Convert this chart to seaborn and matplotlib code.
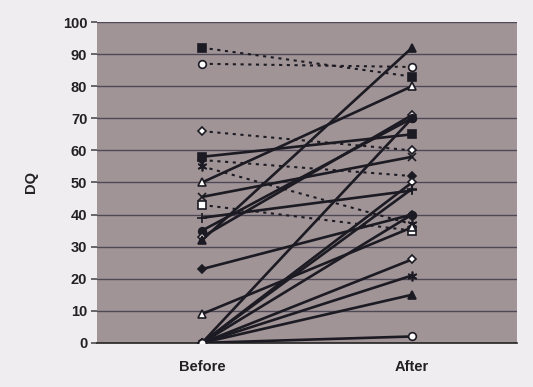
import matplotlib
matplotlib.use("Agg")
import matplotlib.pyplot as plt
import seaborn as sns
import pandas as pd

categories = ["Before", "After"]
before = [92, 87, 66, 57, 55, 43, 58, 50, 45.5, 39, 35, 33, 32, 23, 9, 0, 0, 0, 0, 0, 0, 0, 0]
after  = [83, 86, 60, 52, 37, 35, 65, 80, 58, 47.5, 70, 71, 92, 40, 36, 70, 50, 48, 40, 26, 21, 15, 2]
markers = ["s", "o", "D", "D", "ast", "s", "s", "^", "x", "+", "o", "D", "^", "D", "^", "o", "D", "+", "o", "D", "ast", "^", "o"]
filled  = [1, 0, 0, 1, 1, 0, 1, 0, 1, 1, 1, 0, 1, 1, 0, 1, 0, 1, 1, 0, 1, 1, 0]
dotted  = [1, 1, 1, 1, 1, 1, 0, 0, 0, 0, 0, 0, 0, 0, 0, 0, 0, 0, 0, 0, 0, 0, 0]
yticks = list(range(0, 101, 10))

sns.set_theme(style="white")
plt.rcParams["font.family"] = ["Liberation Sans", "DejaVu Sans"]

fig = plt.figure(figsize=(5.33, 3.87), dpi=100)
fig.patch.set_facecolor("#efedf0")
ax = fig.add_axes([0.182, 0.114, 0.788, 0.829])
ax.set_facecolor("#a09497")

rows = []
for i, (b, a) in enumerate(zip(before, after)):
    rows.append({"id": i, "pos": 0, "DQ": b})
    rows.append({"id": i, "pos": 1, "DQ": a})
df = pd.DataFrame(rows)

for i in range(len(before)):
    sub = df[df["id"] == i]
    m = markers[i]
    mk = (6, 2, 0) if m == "ast" else m
    ms = {"s": 5.5, "o": 5.5, "D": 4.5, "^": 6, "x": 5.5, "+": 7, "ast": 7}[m]
    fc = "#1c1a22" if filled[i] else "white"
    sns.lineplot(data=sub, x="pos", y="DQ", ax=ax, color="#1c1a22",
                 linewidth=1.5 if dotted[i] else 1.9,
                 linestyle=(0, (1.5, 2.2)) if dotted[i] else "-",
                 marker=mk, markersize=ms, markerfacecolor=fc,
                 markeredgecolor="#1c1a22", markeredgewidth=1.2,
                 legend=False, zorder=3)

ax.set_xlim(-0.5, 1.5)
ax.set_ylim(0, 100)
ax.set_yticks(yticks)
ax.set_xticks([0, 1])
ax.set_xticklabels(categories)
for y in yticks[1:]:
    ax.axhline(y, color="#4e4855", linewidth=1.0, zorder=1)
for s in ["top", "right", "left"]:
    ax.spines[s].set_visible(False)
ax.spines["bottom"].set_color("#222")
ax.spines["bottom"].set_linewidth(1.2)
ax.tick_params(axis="y", left=True, length=4, color="#555", labelsize=10.5, pad=3)
ax.tick_params(axis="x", bottom=False, labelsize=10.5, pad=6)
for lab in ax.get_xticklabels() + ax.get_yticklabels():
    lab.set_fontweight("bold")
    lab.set_color("#222")
ax.set_xlabel("")
ax.set_ylabel("DQ", fontsize=10.5, fontweight="bold", color="#222", labelpad=18)

fig.savefig("out.png", dpi=100, facecolor=fig.get_facecolor())
